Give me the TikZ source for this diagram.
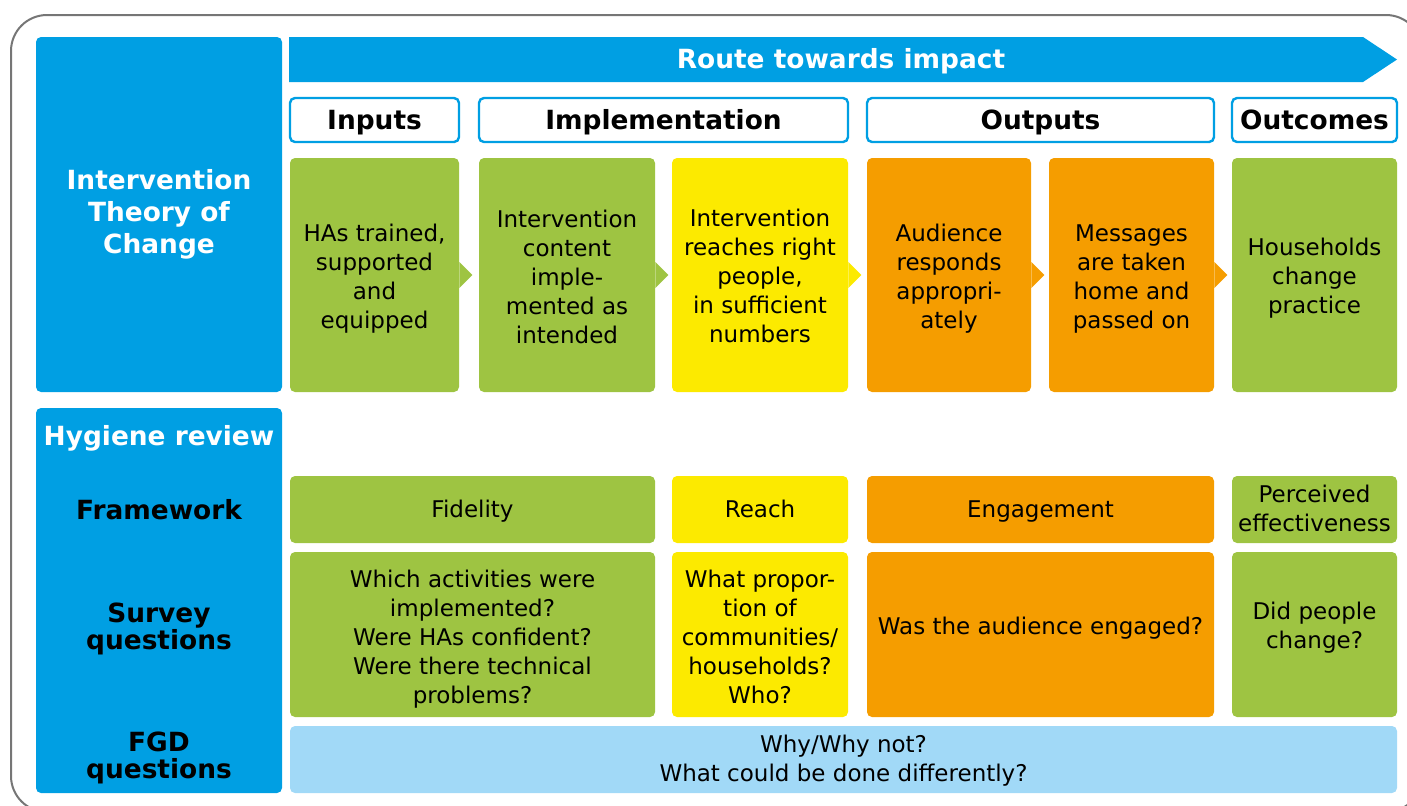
\documentclass[tikz,border=0pt]{standalone}
\usepackage{fontspec}
\setmainfont{DejaVu Sans}
\usepackage{xcolor}
\usepackage{tikz}

\definecolor{routeblue}{RGB}{0,159,227}
\definecolor{leafgreen}{RGB}{158,196,66}
\definecolor{signyellow}{RGB}{252,234,0}
\definecolor{deeporange}{RGB}{245,157,0}
\definecolor{paleblue}{RGB}{161,217,247}
\definecolor{framegray}{RGB}{118,118,118}

\tikzset{
  card/.style={rounded corners=2.5pt, inner sep=0pt, align=center,
    font=\fontsize{11.5}{14.5}\selectfont},
  head/.style={card, draw=routeblue, line width=1.2pt, fill=white,
    minimum height=22pt, font=\bfseries\fontsize{13.2}{15}\selectfont},
  side/.style={align=center, inner sep=0pt,
    font=\bfseries\fontsize{13.2}{16}\selectfont},
  tight/.style={font=\bfseries\fontsize{13.2}{13.5}\selectfont},
  % single lines: centre on the capitals
  oneline/.style={text height=8.4pt, text depth=0pt},
  boldline/.style={text height=9.6pt, text depth=0pt},
}

\begin{document}
\begin{tikzpicture}[x=0.5pt,y=-0.5pt]
\useasboundingbox (0,0) rectangle (1407,805);
\draw[framegray, line width=1pt, rounded corners=18pt] (11,15) rectangle (1422,812);

% left column
\node[card, fill=routeblue, minimum width=123pt, minimum height=177.5pt] (toc) at (159,214.5) {};
\node[side, white] (toclabel) at (159,214) {Intervention\\Theory of\\Change};
\node[card, fill=routeblue, minimum width=123pt, minimum height=192.5pt] (review) at (159,600.5) {};
\node[side, boldline, white] (hygiene) at (159,436) {Hygiene review};
\node[side, boldline] (framework) at (159,510) {Framework};
\node[side, tight] (survey) at (159,629) {Survey\\questions};
\node[side, tight] (fgd) at (159,758) {FGD\\questions};

% route arrow
\fill[routeblue] (289,37) -- (1363,37) -- (1397,59.5) -- (1363,82) -- (289,82) -- cycle;
\node[side, boldline, white] (route) at (841,58.5) {Route towards impact};

% stages
\node[head, boldline, minimum width=84.5pt] (inputs) at (374.5,120) {Inputs};
\node[head, boldline, minimum width=184.5pt] (implementation) at (663.5,120) {Implementation};
\node[head, boldline, minimum width=173.5pt] (outputs) at (1040.5,120) {Outputs};
\node[head, boldline, minimum width=82.5pt] (outcomes) at (1314.5,120) {Outcomes};

% theory of change chain
\node[card, fill=leafgreen, minimum width=84.5pt, minimum height=117pt] (hat) at (374.5,275) {};
\node (hattext) [card] at (374.5,279) {HAs trained,\\supported\\and\\equipped};
\node[card, fill=leafgreen, minimum width=88pt, minimum height=117pt] (content) at (567,275) {};
\node (contenttext) [card] at (567,277) {Intervention\\content\\imple-\\mented as\\intended};
\node[card, fill=signyellow, minimum width=88pt, minimum height=117pt] (reach) at (760,275) {};
\node (reachtext) [card] at (760,276) {Intervention\\reaches right\\people,\\in sufficient\\numbers};
\node[card, fill=deeporange, minimum width=82pt, minimum height=117pt] (respond) at (949,275) {};
\node (respondtext) [card] at (949,278.5) {Audience\\responds\\appropri-\\ately};
\node[card, fill=deeporange, minimum width=82.5pt, minimum height=117pt] (messages) at (1131.5,275) {};
\node (messagestext) [card] at (1131.5,278.5) {Messages\\are taken\\home and\\passed on};
\node[card, fill=leafgreen, minimum width=82.5pt, minimum height=117pt] (practice) at (1314.5,275) {};
\node (practicetext) [card] at (1314.5,278) {Households\\change\\practice};

\foreach \n/\c in {hat/leafgreen, content/leafgreen, reach/signyellow, respond/deeporange, messages/deeporange}
  \fill[\c] ([yshift=6.5pt]\n.east) -- ([xshift=6.5pt]\n.east) -- ([yshift=-6.5pt]\n.east) -- cycle;

% framework row
\node[card, oneline, fill=leafgreen, minimum width=182.5pt, minimum height=33.5pt] (fidelity) at (472.5,509.5) {Fidelity};
\node[card, oneline, fill=signyellow, minimum width=88pt, minimum height=33.5pt] (reachfw) at (760,509.5) {Reach};
\node[card, oneline, fill=deeporange, minimum width=173.5pt, minimum height=33.5pt] (engagement) at (1040.5,509.5) {Engagement};
\node[card, fill=leafgreen, minimum width=82.5pt, minimum height=33.5pt] (perceived) at (1314.5,509.5) {};
\node (perceivedtext) [card] at (1314.5,508.5) {Perceived\\effectiveness};

% survey questions row
\node[card, fill=leafgreen, minimum width=182.5pt, minimum height=82.5pt] (activities) at (472.5,634.5) {};
\node (activitiestext) [card] at (472.5,639)
  {Which activities were\\implemented?\\Were HAs confident?\\Were there technical\\problems?};
\node[card, fill=signyellow, minimum width=88pt, minimum height=82.5pt] (proportion) at (760,634.5) {};
\node (proportiontext) [card] at (760,636.5)
  {What propor-\\tion of\\communities/\\households?\\Who?};
\node[card, fill=deeporange, minimum width=173.5pt, minimum height=82.5pt] (engaged) at (1040.5,634.5) {};
\node (engagedtext) [card, oneline] at (1040.5,626) {Was the audience engaged?};
\node[card, fill=leafgreen, minimum width=82.5pt, minimum height=82.5pt] (change) at (1314.5,634.5) {};
\node (changetext) [card] at (1314.5,628) {Did people\\change?};

% FGD row
\node[card, fill=paleblue, minimum width=553.5pt, minimum height=33.5pt] (whynot) at (843.5,759.5) {};
\node (whynottext) [card] at (843.5,760.5) {Why/Why not?\\What could be done differently?};
\end{tikzpicture}
\end{document}
